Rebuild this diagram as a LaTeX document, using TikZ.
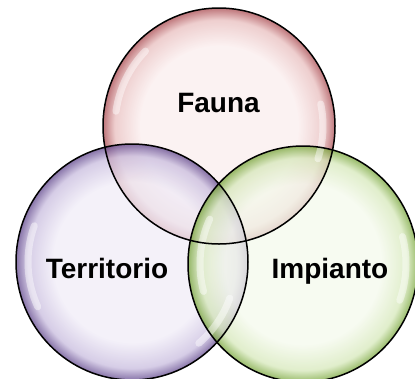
\documentclass[tikz,border=0pt]{standalone}
\usepackage{fontspec}
\setmainfont{Liberation Sans}

\definecolor{faunain}{RGB}{250,237,237}
\definecolor{faunamid}{RGB}{232,190,190}
\definecolor{faunaout}{RGB}{168,72,78}
\definecolor{terrin}{RGB}{240,236,247}
\definecolor{terrmid}{RGB}{200,188,222}
\definecolor{terrout}{RGB}{96,70,140}
\definecolor{impin}{RGB}{244,249,236}
\definecolor{impmid}{RGB}{214,232,186}
\definecolor{impout}{RGB}{118,164,56}

\pgfdeclareradialshading{faunashade}{\pgfpoint{0bp}{0bp}}{color(0bp)=(faunain); color(17bp)=(faunain); color(22.5bp)=(faunamid); color(25bp)=(faunaout); color(50bp)=(faunaout)}
\pgfdeclareradialshading{terrshade}{\pgfpoint{0bp}{0bp}}{color(0bp)=(terrin); color(17bp)=(terrin); color(22.5bp)=(terrmid); color(25bp)=(terrout); color(50bp)=(terrout)}
\pgfdeclareradialshading{impshade}{\pgfpoint{0bp}{0bp}}{color(0bp)=(impin); color(17bp)=(impin); color(22.5bp)=(impmid); color(25bp)=(impout); color(50bp)=(impout)}

\tikzset{every picture/.style={line width=0.75pt},
  bubble/.style={fill opacity=0.75},
  rim/.style={draw=black, line width=1.5},
  gloss/.style={draw=white, draw opacity=0.45, line width=7, line cap=round},
  vennlabel/.style={anchor=base, inner sep=0.75pt, font=\fontsize{28}{34}\selectfont\bfseries}}

\begin{document}
\begin{tikzpicture}[x=1pt,y=1pt,yscale=-1,xscale=1]
\useasboundingbox (0,0) rectangle (415,378);

%Shape: Ellipse [Fauna]
\shade [shading=faunashade, bubble] (219,126) ellipse [x radius=116, y radius=118];
%Shape: Ellipse [Territorio]
\shade [shading=terrshade, bubble] (132,262) ellipse [x radius=116, y radius=118];
%Shape: Ellipse [Impianto]
\shade [shading=impshade, bubble] (303,264) ellipse [x radius=115, y radius=118];

%Highlights
\draw [gloss] (219,126) ++(188:104 and 106) arc [start angle=188, end angle=225, x radius=104, y radius=106];
\draw [gloss] (219,126) ++(-12:104 and 106) arc [start angle=-12, end angle=18, x radius=104, y radius=106];
\draw [gloss] (132,262) ++(155:104 and 106) arc [start angle=155, end angle=200, x radius=104, y radius=106];
\draw [gloss] (132,262) ++(20:104 and 106) arc [start angle=20, end angle=50, x radius=104, y radius=106];
\draw [gloss] (303,264) ++(-15:103 and 106) arc [start angle=-15, end angle=20, x radius=103, y radius=106];
\draw [gloss] (303,264) ++(165:103 and 106) arc [start angle=165, end angle=205, x radius=103, y radius=106];

%Outlines
\draw [rim] (219,126) ellipse [x radius=116, y radius=118];
\draw [rim] (132,262) ellipse [x radius=116, y radius=118];
\draw [rim] (303,264) ellipse [x radius=115, y radius=118];

% Text Node
\draw (218.5,112) node (fauna) [vennlabel] {Fauna};
% Text Node
\draw (107,278) node (territorio) [vennlabel] {Territorio};
% Text Node
\draw (330,278) node (impianto) [vennlabel] {Impianto};

\end{tikzpicture}
\end{document}
